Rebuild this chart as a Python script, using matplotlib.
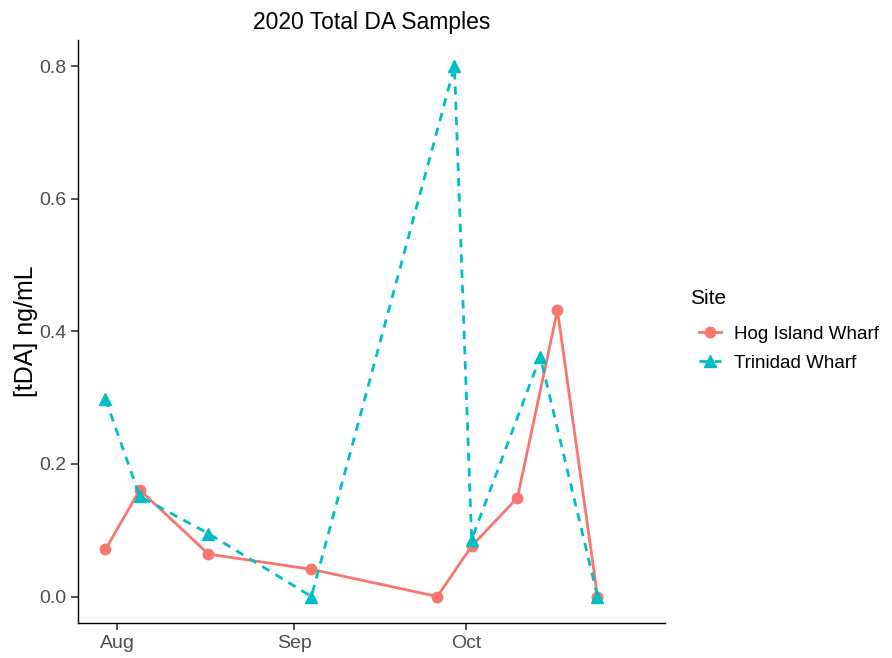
import matplotlib
matplotlib.use('Agg')
import matplotlib.pyplot as plt
import matplotlib.dates as mdates
import numpy as np
from datetime import date

plt.rcParams['font.family'] = ['Liberation Sans', 'DejaVu Sans']

# Sample dates and tDA values
hog_dates = [date(2020, 7, 30), date(2020, 8, 5), date(2020, 8, 17), date(2020, 9, 4),
             date(2020, 9, 26), date(2020, 10, 2), date(2020, 10, 10), date(2020, 10, 17),
             date(2020, 10, 24)]
hog_tda = [0.071, 0.161, 0.064, 0.041, 0.0, 0.076, 0.149, 0.432, 0.0]

trin_dates = [date(2020, 7, 30), date(2020, 8, 5), date(2020, 8, 17), date(2020, 9, 4),
              date(2020, 9, 29), date(2020, 10, 2), date(2020, 10, 14), date(2020, 10, 24)]
trin_tda = [0.298, 0.151, 0.095, 0.0, 0.8, 0.086, 0.362, 0.0]

month_ticks = [date(2020, 8, 1), date(2020, 9, 1), date(2020, 10, 1)]
y_ticks = [0.0, 0.2, 0.4, 0.6, 0.8]

red = '#F8766D'
teal = '#00BFC4'

fig = plt.figure(figsize=(8.92, 6.58), dpi=100)
ax = fig.add_axes([78 / 892, 35 / 658, (665 - 78) / 892, (623 - 40) / 658])

ax.plot(hog_dates, hog_tda, color=red, lw=2, marker='o', markersize=7.5,
        label='Hog Island Wharf')
ax.plot(trin_dates, trin_tda, color=teal, lw=2, linestyle=(0, (3, 2.5)), marker='^',
        markersize=8.5, label='Trinidad Wharf')

x0 = mdates.date2num(date(2020, 7, 25))
ax.set_xlim(x0 + 0.2, x0 + 102.8)
ax.set_ylim(-0.04, 0.84)
ax.set_xticks(month_ticks)
ax.xaxis.set_major_formatter(mdates.DateFormatter('%b'))
ax.set_yticks(y_ticks)
ax.set_yticklabels([f'{v:.1f}' for v in y_ticks])

for side in ['top', 'right']:
    ax.spines[side].set_visible(False)
for side in ['left', 'bottom']:
    ax.spines[side].set_linewidth(1.0)
ax.tick_params(axis='both', labelsize=14, labelcolor='#4D4D4D', length=5, width=1.2,
               color='#333333')

ax.set_ylabel('[tDA] ng/mL', fontsize=18, labelpad=1)
ax.set_title('2020 Total DA Samples', fontsize=16.5, pad=8)

# legend: title as separate text so its gap to the keys matches
fig.text(690 / 892, 1 - 298 / 658, 'Site', fontsize=15, ha='left', va='center')
leg = ax.legend(loc='upper left', bbox_to_anchor=(682 / 892, 1 - 309 / 658),
                bbox_transform=fig.transFigure, frameon=False, fontsize=13.5,
                handlelength=1.2, handletextpad=0.7, labelspacing=0.62)

fig.savefig('out.png', dpi=100)
